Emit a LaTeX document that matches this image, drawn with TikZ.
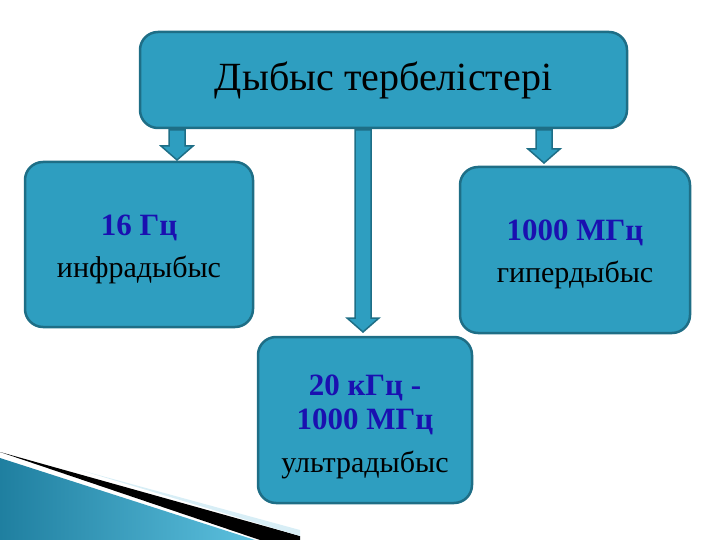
\documentclass[tikz,border=0pt]{standalone}
\usepackage{fontspec}
\setmainfont{Liberation Serif}
\definecolor{boxfill}{HTML}{2E9EC0}
\definecolor{boxline}{HTML}{1E6E86}
\definecolor{numblue}{HTML}{1A10B0}
\definecolor{deco1}{HTML}{1F7FA0}
\definecolor{deco2}{HTML}{5CC0DE}
\definecolor{decolight}{HTML}{D8EEF6}
\begin{document}
\begin{tikzpicture}[x=1pt,y=-1pt,
  box/.style={draw=boxline,line width=2.5pt,fill=boxfill,rounded corners=18pt,inner sep=0pt},
  fat/.style={draw=boxline,line width=1.5pt,fill=boxfill},
  num/.style={text=numblue,font=\fontsize{31}{34}\selectfont\bfseries},
  lab/.style={font=\fontsize{30}{33}\selectfont}]
\useasboundingbox (0,0) rectangle (720,540);
% decoration
\shade[left color=deco1,right color=deco2] (0,458) -- (255,540) -- (0,540) -- cycle;
\fill[black] (0,452) -- (300,536) -- (300,540) -- (260,540) -- cycle;
\fill[decolight] (80,470) -- (300,530) -- (300,536) -- cycle;
% boxes
\node[box,minimum width=487pt,minimum height=96pt] (top) at (383.5,80) {\fontsize{40}{44}\selectfont Дыбыс тербелістері};
\node[box,minimum width=228pt,minimum height=165pt] (l) at (139,244.5) {};
\node[box,minimum width=230pt,minimum height=166pt] (r) at (575,250) {};
\node[box,minimum width=214pt,minimum height=166pt] (b) at (365,420) {};
\node[num] (ln) at (139,228) {16 Гц};
\node[lab] (lt) at (139,270) {инфрадыбыс};
\node[num] (rn) at (575,233) {1000 МГц};
\node[lab] (rt) at (575,275) {гипердыбыс};
\node[num,align=center] (bn) at (365,405) {20 кГц -\\1000 МГц};
\node[lab] (bt) at (365,465) {ультрадыбыс};
% arrows
\newcommand{\fatarr}[3]{\filldraw[fat] (#1-8,#2) -- (#1+8,#2) -- (#1+8,#3-14) -- (#1+16,#3-14) -- (#1,#3) -- (#1-16,#3-14) -- (#1-8,#3-14) -- cycle;}
\fatarr{177}{130}{160}
\fatarr{363}{130}{332}
\fatarr{544}{130}{163}
\end{tikzpicture}
\end{document}
